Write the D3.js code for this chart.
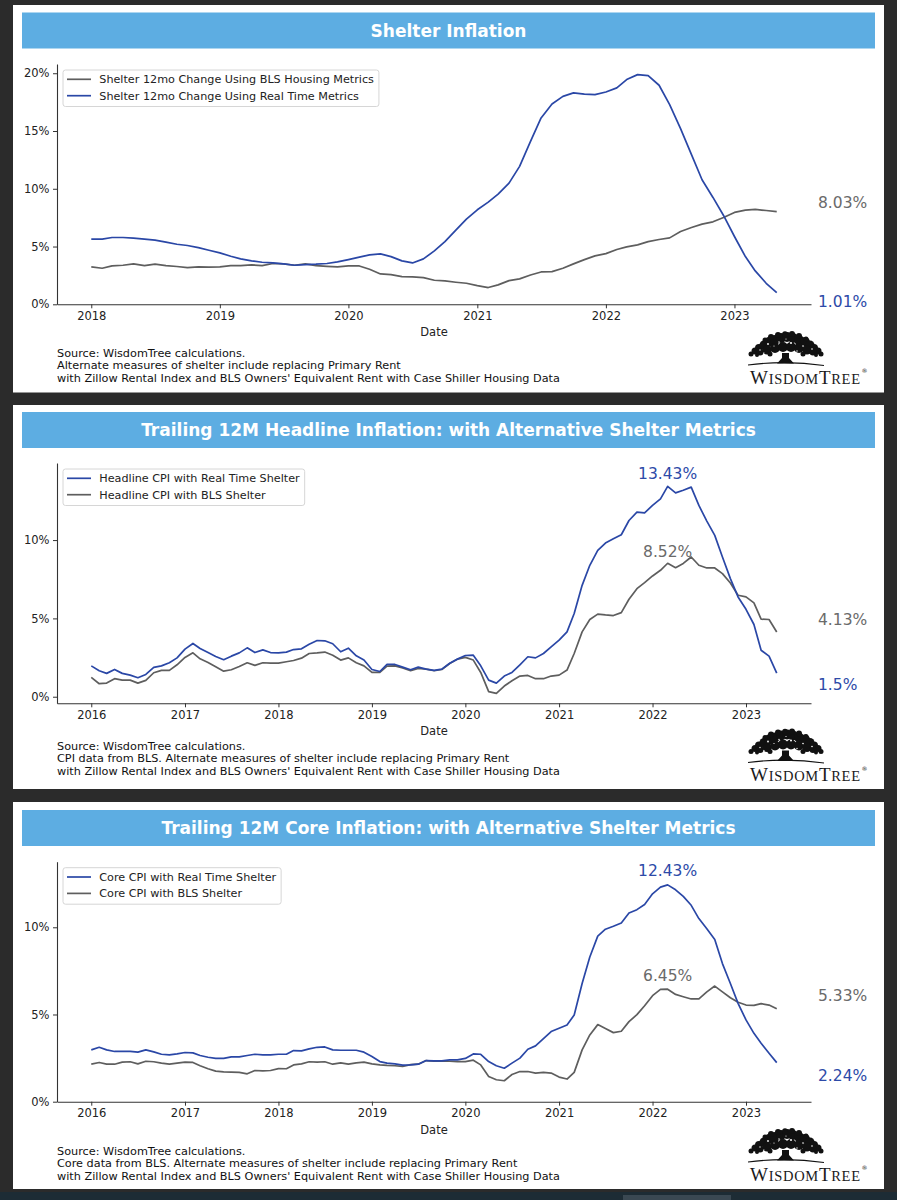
<!DOCTYPE html>
<html><head><meta charset="utf-8">
<script src="https://cdn.jsdelivr.net/npm/d3@7"></script>
<style>
body{margin:0;background:#2b2b2b;}
svg{display:block;font-family:"DejaVu Sans",sans-serif;}
</style>
</head><body>
<svg id="c" width="897" height="1200"></svg>
<script>
// ---------------- DATA ----------------
const shelterStart = "2018-01";
const shelterEnd = "2023-05";
const shelterSeriesNames = ["Shelter 12mo Change Using BLS Housing Metrics", "Shelter 12mo Change Using Real Time Metrics"];
const shelterBLS = [
  3.24,3.12,3.32,3.38,3.5,3.35,3.47,3.35,3.27,3.18,3.24,3.21,
  3.24,3.35,3.35,3.41,3.35,3.53,3.5,3.38,3.5,3.35,3.29,3.24,
  3.32,3.32,3.03,2.63,2.57,2.4,2.37,2.31,2.08,2.02,1.91,1.82,
  1.62,1.45,1.68,2.05,2.2,2.54,2.8,2.83,3.12,3.5,3.87,4.19,
  4.39,4.74,4.97,5.14,5.43,5.61,5.75,6.3,6.65,6.94,7.14,7.51,
  7.95,8.15,8.21,8.12,8.03];
const shelterRealTime = [
  5.64,5.64,5.78,5.78,5.72,5.64,5.55,5.38,5.2,5.09,4.91,4.68,
  4.45,4.16,3.93,3.76,3.64,3.58,3.5,3.38,3.44,3.47,3.53,3.67,
  3.87,4.08,4.28,4.36,4.13,3.76,3.58,3.93,4.62,5.43,6.42,7.37,
  8.18,8.84,9.54,10.49,11.94,14.1,16.13,17.34,18.0,18.3,18.2,18.15,
  18.38,18.73,19.45,19.88,19.8,18.96,17.28,15.2,12.95,10.78,9.25,7.69,
  5.87,4.13,2.89,1.82,1.01];
const shelterYTicks = [0,5,10,15,20];

const cpiStart = "2016-01";
const cpiEnd = "2023-05";
const cpiPeakMonth = "2022-03";
const headlineSeriesNames = ["Headline CPI with Real Time Shelter", "Headline CPI with BLS Shelter"];
const headlineRealTime = [
  1.97,1.66,1.49,1.74,1.49,1.38,1.21,1.42,1.87,1.97,2.17,2.48,
  3.04,3.4,3.08,2.82,2.57,2.36,2.59,2.8,3.12,2.82,2.99,2.82,
  2.8,2.85,3.01,3.06,3.35,3.59,3.57,3.38,2.87,3.1,2.61,2.34,
  1.74,1.61,2.06,2.06,1.89,1.72,1.89,1.76,1.68,1.76,2.14,2.4,
  2.63,2.65,1.97,1.06,0.87,1.32,1.55,2.04,2.55,2.48,2.76,3.18,
  3.61,4.14,5.31,7.11,8.39,9.34,9.81,10.08,10.34,11.25,11.78,11.74,
  12.21,12.63,13.43,13.01,13.18,13.38,12.21,11.21,10.3,8.92,7.54,6.37,
  5.58,4.61,2.97,2.59,1.5];
const headlineBLS = [
  1.23,0.83,0.87,1.15,1.06,1.06,0.87,1.04,1.53,1.68,1.68,2.04,
  2.51,2.8,2.42,2.19,1.91,1.63,1.72,1.93,2.17,2.0,2.17,2.14,
  2.14,2.23,2.31,2.46,2.76,2.8,2.85,2.65,2.34,2.48,2.17,1.97,
  1.55,1.55,1.95,1.97,1.83,1.66,1.8,1.76,1.66,1.74,2.12,2.4,
  2.51,2.34,1.55,0.33,0.21,0.68,1.02,1.32,1.36,1.15,1.15,1.32,
  1.38,1.7,2.76,4.14,4.93,5.27,5.22,5.18,5.37,6.22,6.9,7.28,
  7.71,8.07,8.52,8.24,8.51,8.92,8.39,8.22,8.22,7.86,7.26,6.48,
  6.37,5.99,4.95,4.93,4.13];
const coreSeriesNames = ["Core CPI with Real Time Shelter", "Core CPI with BLS Shelter"];
const coreRealTime = [
  2.97,3.12,2.97,2.88,2.88,2.88,2.84,2.97,2.86,2.72,2.69,2.74,
  2.82,2.8,2.65,2.55,2.48,2.48,2.57,2.57,2.65,2.72,2.69,2.69,
  2.72,2.72,2.93,2.91,3.03,3.12,3.14,2.97,2.95,2.95,2.95,2.84,
  2.59,2.3,2.21,2.17,2.1,2.11,2.15,2.36,2.34,2.34,2.4,2.4,
  2.48,2.74,2.72,2.3,2.06,1.92,2.21,2.5,3.01,3.2,3.62,4.02,
  4.21,4.4,4.97,6.78,8.3,9.49,9.89,10.06,10.25,10.82,11.01,11.31,
  11.92,12.3,12.43,12.15,11.77,11.26,10.5,9.92,9.3,7.92,6.78,5.64,
  4.69,3.92,3.35,2.78,2.24];
const coreBLS = [
  2.15,2.25,2.15,2.15,2.27,2.29,2.17,2.32,2.29,2.21,2.15,2.21,
  2.27,2.25,2.06,1.89,1.75,1.71,1.7,1.68,1.6,1.79,1.77,1.79,
  1.9,1.89,2.11,2.17,2.29,2.27,2.29,2.15,2.23,2.15,2.23,2.27,
  2.17,2.11,2.08,2.06,2.02,2.13,2.15,2.36,2.32,2.32,2.32,2.3,
  2.3,2.38,2.11,1.45,1.26,1.2,1.56,1.73,1.73,1.64,1.68,1.64,
  1.41,1.3,1.68,2.97,3.83,4.42,4.19,3.96,4.04,4.59,4.99,5.5,
  6.08,6.44,6.45,6.15,6.02,5.89,5.9,6.3,6.63,6.3,5.96,5.7,
  5.54,5.52,5.62,5.54,5.33];
const cpiYTicks = [0,5,10];

const titles = ["Shelter Inflation",
  "Trailing 12M Headline Inflation: with Alternative Shelter Metrics",
  "Trailing 12M Core Inflation: with Alternative Shelter Metrics"];
const sourceNotes = [
  ["Source: WisdomTree calculations.",
   "Alternate measures of shelter include replacing Primary Rent",
   "with Zillow Rental Index and BLS Owners' Equivalent Rent with Case Shiller Housing Data"],
  ["Source: WisdomTree calculations.",
   "CPI data from BLS. Alternate measures of shelter include replacing Primary Rent",
   "with Zillow Rental Index and BLS Owners' Equivalent Rent with Case Shiller Housing Data"],
  ["Source: WisdomTree calculations.",
   "Core data from BLS. Alternate measures of shelter include replacing Primary Rent",
   "with Zillow Rental Index and BLS Owners' Equivalent Rent with Case Shiller Housing Data"]];

// ---------------- DRAWING ----------------
const BLUE = "#2a47a6", GRAY = "#5e5e5e", BLUE_T = "#2d4aa8", GRAY_T = "#6a6a6a";
const parseM = d3.timeParse("%Y-%m");
const svg = d3.select("#c");
svg.append("rect").attr("width", 897).attr("height", 1200).attr("fill", "#2b2b2b");
svg.append("rect").attr("x", 0).attr("y", 1192).attr("width", 897).attr("height", 8).attr("fill", "#1d2c35");
svg.append("rect").attr("x", 623).attr("y", 1195).attr("width", 108).attr("height", 5).attr("fill", "#3a4852");

function months(start, end) {
  return d3.timeMonth.range(parseM(start), d3.timeMonth.offset(parseM(end), 1));
}

function drawLogo(dy) {
  const g = svg.append("g").attr("transform", `translate(0,${dy})`);
  const blobs = [
    [751,354,2.5],[755,351,3.5],[759,348,4],[764,345,4.5],[769,342,5],[775,340,5],[781,338,5],[787,337,5],
    [793,338,5],[799,340,5],[805,342,5],[810,345,4.5],[814,348,4],[818,351,3.5],[821,354,2.5],
    [760,352,3.5],[767,350,4.5],[775,348,5],[783,347,5],[791,347,5],[799,348,5],[807,350,4.5],[813,352,3.5],
    [771,337,3],[778,335,3],[785,334,2.8],[792,334,3],[799,336,3],[765,340,2.5],[806,339,2.5],
    [757,355,2],[816,355,2],[770,354,2.5],[803,354,2.5]];
  g.selectAll("circle.b").data(blobs).join("circle").attr("cx", d => d[0]).attr("cy", d => d[1]).attr("r", d => d[2]).attr("fill", "#111");
  const holes = [[768,344,0.9],[791,343,1.0],[803,346,0.8],[779,342,0.7],[760,350,0.7],[812,349,0.8],[786,339,0.6],[774,346,0.6],[797,351,0.7],[764,353,0.6]];
  g.selectAll("circle.h").data(holes).join("circle").attr("cx", d => d[0]).attr("cy", d => d[1]).attr("r", d => d[2]).attr("fill", "#fff");
  g.append("path").attr("d", "M782,353 L789,353 L789,358 L794,363.5 L777,363.5 L782,358 Z").attr("fill", "#111");
  g.append("path").attr("d", "M748,365 Q786,360 824,365.5").attr("fill", "none").attr("stroke", "#111").attr("stroke-width", 1.2);
  const t = g.append("text").attr("x", 750).attr("y", 383.5).attr("font-family", "'Liberation Serif','DejaVu Serif',serif")
    .attr("fill", "#1a1a1a").attr("textLength", 110).attr("lengthAdjust", "spacing");
  t.append("tspan").attr("font-size", 19).text("W");
  t.append("tspan").attr("font-size", 14.5).text("ISDOM");
  t.append("tspan").attr("font-size", 19).text("T");
  t.append("tspan").attr("font-size", 14.5).text("REE");
  g.append("text").attr("x", 861.5).attr("y", 373).attr("font-size", 6).attr("fill", "#1a1a1a").text("®");
}

function drawPanel(cfg) {
  const g = svg.append("g");
  g.append("rect").attr("x", 13).attr("y", cfg.top).attr("width", 871).attr("height", cfg.bottom - cfg.top).attr("fill", "#fff");
  g.append("rect").attr("x", 22).attr("y", cfg.titleTop).attr("width", 853).attr("height", 36).attr("fill", "#5DADE2");
  g.append("text").attr("x", 448.5).attr("y", cfg.titleTop + 18).attr("dy", "0.36em").attr("text-anchor", "middle")
    .attr("fill", "#fff").attr("font-weight", "bold").attr("font-size", 17).text(cfg.title);

  const dates = months(cfg.start, cfg.end);
  const t0 = dates[0].getTime(), t1 = dates[dates.length - 1].getTime(), pad = (t1 - t0) * 0.05;
  const x = d3.scaleTime().domain([new Date(t0 - pad), new Date(t1 + pad)]).range([57, 811]);
  const y = d3.scaleLinear().domain(cfg.yDomain).range([cfg.yBottom, cfg.yTop]);

  const xAxis = g.append("g").attr("transform", `translate(0,${cfg.yBottom})`)
    .call(d3.axisBottom(x).ticks(d3.timeYear.every(1)).tickFormat(d3.timeFormat("%Y")).tickSize(4).tickPadding(3.5).tickSizeOuter(0));
  const yAxis = g.append("g").attr("transform", `translate(57,0)`)
    .call(d3.axisLeft(y).tickValues(cfg.yTicks).tickFormat(d => d + "%").tickSize(4).tickPadding(3.5).tickSizeOuter(0));
  [xAxis, yAxis].forEach(a => {
    a.attr("font-size", 11.5).attr("font-family", "'DejaVu Sans',sans-serif").attr("color", "#333");
    a.selectAll("text").attr("fill", "#222");
    a.selectAll(".domain").attr("stroke-width", 1.1);
  });

  g.append("text").attr("x", 434).attr("y", cfg.yBottom + 32).attr("text-anchor", "middle").attr("font-size", 11.5).attr("fill", "#222").text("Date");

  const line = d3.line().x((d, i) => x(dates[i])).y(d => y(d));
  cfg.series.forEach(s => {
    g.append("path").datum(s.values).attr("d", line).attr("fill", "none").attr("stroke", s.color)
      .attr("stroke-width", 1.7).attr("stroke-linejoin", "round");
  });

  // legend
  const lg = g.append("g");
  const lTop = cfg.yTop + 6;
  const box = lg.append("rect").attr("x", 63).attr("y", lTop).attr("height", 36.5).attr("rx", 2.5)
    .attr("fill", "#fff").attr("fill-opacity", 0.85).attr("stroke", "#d6d6d6").attr("stroke-width", 1);
  let maxW = 0;
  cfg.legend.forEach((s, i) => {
    const yy = lTop + 9.3 + i * 16.4;
    lg.append("line").attr("x1", 67).attr("x2", 91).attr("y1", yy).attr("y2", yy).attr("stroke", s.color).attr("stroke-width", 1.7);
    const tx = lg.append("text").attr("x", 99.3).attr("y", yy).attr("dy", "0.35em").attr("font-size", 11.2).attr("fill", "#222").text(s.name);
    maxW = Math.max(maxW, tx.node().getComputedTextLength());
  });
  box.attr("width", 99.3 - 63 + maxW + 5);

  // annotations
  cfg.notes.forEach(n => {
    const v = n.series.values[n.index];
    const tx = n.anchor === "middle" ? x(dates[n.index]) : 818;
    g.append("text").attr("x", tx).attr("y", y(v) + n.dy).attr("dy", "0.36em").attr("text-anchor", n.anchor)
      .attr("font-size", 15.5).attr("fill", n.series.textColor).text(v + "%");
  });

  // source
  cfg.source.forEach((s, i) => {
    g.append("text").attr("x", 57).attr("y", cfg.sourceY + i * 12.8).attr("dy", "0.35em").attr("font-size", 11.25).attr("fill", "#111").text(s);
  });
  drawLogo(cfg.logoDy);
}

// Panel 1
{
  const bls = {name: shelterSeriesNames[0], values: shelterBLS, color: GRAY, textColor: GRAY_T};
  const rt = {name: shelterSeriesNames[1], values: shelterRealTime, color: BLUE, textColor: BLUE_T};
  const last = shelterBLS.length - 1;
  drawPanel({top: 5, bottom: 392.5, titleTop: 12.5, title: titles[0], start: shelterStart, end: shelterEnd,
    yDomain: [0, 20.8], yBottom: 304.3, yTop: 64, yTicks: shelterYTicks,
    series: [bls, rt], legend: [bls, rt],
    notes: [{series: bls, index: last, anchor: "start", dy: -9.6}, {series: rt, index: last, anchor: "start", dy: 8.4}],
    source: sourceNotes[0], sourceY: 352.7, logoDy: 0});
}
// Panel 2
{
  const rt = {name: headlineSeriesNames[0], values: headlineRealTime, color: BLUE, textColor: BLUE_T};
  const bls = {name: headlineSeriesNames[1], values: headlineBLS, color: GRAY, textColor: GRAY_T};
  const last = headlineBLS.length - 1;
  const pk = months(cpiStart, cpiEnd).findIndex(d => +d === +parseM(cpiPeakMonth));
  drawPanel({top: 405, bottom: 789, titleTop: 412, title: titles[1], start: cpiStart, end: cpiEnd,
    yDomain: [-0.42, 14.92], yBottom: 703.3, yTop: 463, yTicks: cpiYTicks,
    series: [bls, rt], legend: [rt, bls],
    notes: [{series: rt, index: pk, anchor: "middle", dy: -13.4}, {series: bls, index: pk, anchor: "middle", dy: -12.3},
            {series: bls, index: last, anchor: "start", dy: -13}, {series: rt, index: last, anchor: "start", dy: 11}],
    source: sourceNotes[1], sourceY: 745.7, logoDy: 397.5});
}
// Panel 3
{
  const rt = {name: coreSeriesNames[0], values: coreRealTime, color: BLUE, textColor: BLUE_T};
  const bls = {name: coreSeriesNames[1], values: coreBLS, color: GRAY, textColor: GRAY_T};
  const last = coreBLS.length - 1;
  const pk = months(cpiStart, cpiEnd).findIndex(d => +d === +parseM(cpiPeakMonth));
  drawPanel({top: 802, bottom: 1189, titleTop: 810, title: titles[2], start: cpiStart, end: cpiEnd,
    yDomain: [0, 13.76], yBottom: 1101.7, yTop: 861.7, yTicks: cpiYTicks,
    series: [bls, rt], legend: [rt, bls],
    notes: [{series: rt, index: pk, anchor: "middle", dy: -14}, {series: bls, index: pk, anchor: "middle", dy: -14},
            {series: bls, index: last, anchor: "start", dy: -13.7}, {series: rt, index: last, anchor: "start", dy: 12.4}],
    source: sourceNotes[2], sourceY: 1150.7, logoDy: 797});
}
</script>
</body></html>
